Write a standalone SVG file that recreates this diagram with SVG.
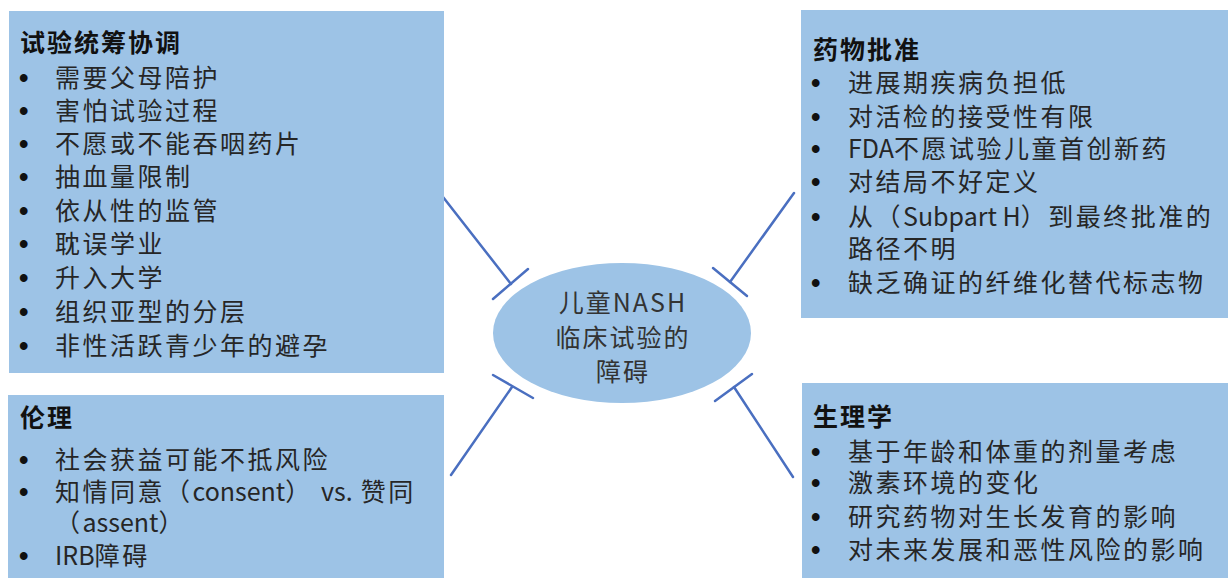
<svg xmlns="http://www.w3.org/2000/svg" width="1231" height="578" viewBox="0 0 1231 578">
<style>
.box{fill:#9DC3E6;}
.ell{fill:#9DC3E6;}
.t{font-family:"Noto Sans CJK SC","Noto Sans",sans-serif;font-size:25px;fill:#262626;letter-spacing:2.5px;}
.l{letter-spacing:0px;}
.h{font-family:"Noto Sans CJK SC","Noto Sans",sans-serif;font-size:25px;font-weight:bold;fill:#111;letter-spacing:2px;}
.b{font-family:"Liberation Sans",sans-serif;font-size:27px;font-weight:bold;fill:#111;}
.c{font-family:"Noto Sans CJK SC","Noto Sans",sans-serif;font-size:25px;fill:#333;letter-spacing:2px;text-anchor:middle;}
.ln{stroke:#4A6FC0;stroke-width:2.5;fill:none;stroke-linecap:round;}
</style>
<rect width="1231" height="578" fill="#ffffff"/>
<g id="connectors">
<line class="ln" x1="443" y1="197" x2="511" y2="284"/>
<line class="ln" x1="493" y1="299" x2="528" y2="269"/>
<line class="ln" x1="794" y1="193" x2="730" y2="282"/>
<line class="ln" x1="713" y1="268" x2="747" y2="296"/>
<line class="ln" x1="451" y1="475" x2="512" y2="387"/>
<line class="ln" x1="493" y1="375" x2="533" y2="398"/>
<line class="ln" x1="793" y1="477" x2="734" y2="387"/>
<line class="ln" x1="715" y1="401" x2="752" y2="374"/>
</g>
<g id="center">
<ellipse class="ell" cx="622" cy="333" rx="129" ry="70"/>
<text class="c" x="623" y="312">儿童NASH</text>
<text class="c" x="623" y="347">临床试验的</text>
<text class="c" x="623" y="381">障碍</text>
</g>
<g id="trial-coordination">
<rect class="box" x="9" y="11" width="435" height="362"/>
<text class="h" x="20" y="52">试验统筹协调</text>
<text class="b" x="19" y="87">•</text><text class="t" x="55" y="87">需要父母陪护</text>
<text class="b" x="19" y="120">•</text><text class="t" x="55" y="120">害怕试验过程</text>
<text class="b" x="19" y="153">•</text><text class="t" x="55" y="153">不愿或不能吞咽药片</text>
<text class="b" x="19" y="186">•</text><text class="t" x="55" y="186">抽血量限制</text>
<text class="b" x="19" y="220">•</text><text class="t" x="55" y="220">依从性的监管</text>
<text class="b" x="19" y="253">•</text><text class="t" x="55" y="253">耽误学业</text>
<text class="b" x="19" y="287">•</text><text class="t" x="55" y="287">升入大学</text>
<text class="b" x="19" y="321">•</text><text class="t" x="55" y="321">组织亚型的分层</text>
<text class="b" x="19" y="355">•</text><text class="t" x="55" y="355">非性活跃青少年的避孕</text>
</g>
<g id="drug-approval">
<rect class="box" x="801" y="10" width="427" height="308"/>
<text class="h" x="813" y="59">药物批准</text>
<text class="b" x="811" y="92">•</text><text class="t" x="848" y="92">进展期疾病负担低</text>
<text class="b" x="811" y="126">•</text><text class="t" x="848" y="126">对活检的接受性有限</text>
<text class="b" x="811" y="158">•</text><text class="t" x="848" y="158"><tspan class="l">FDA</tspan>不愿试验儿童首创新药</text>
<text class="b" x="811" y="191">•</text><text class="t" x="848" y="191">对结局不好定义</text>
<text class="b" x="811" y="226">•</text><text class="t" x="848" y="226">从（<tspan class="l">Subpart H</tspan>）到最终批准的</text>
<text class="t" x="848" y="258">路径不明</text>
<text class="b" x="811" y="292">•</text><text class="t" x="848" y="292">缺乏确证的纤维化替代标志物</text>
</g>
<g id="ethics">
<rect class="box" x="8" y="395" width="436" height="183"/>
<text class="h" x="20" y="427">伦理</text>
<text class="b" x="19" y="469">•</text><text class="t" x="55" y="469">社会获益可能不抵风险</text>
<text class="b" x="19" y="501">•</text><text class="t" x="55" y="501">知情同意（<tspan class="l">consent</tspan>） <tspan class="l">vs.</tspan> 赞同</text>
<text class="t" x="55" y="532">（<tspan class="l">assent</tspan>）</text>
<text class="b" x="19" y="565">•</text><text class="t" x="55" y="565"><tspan class="l">IRB</tspan>障碍</text>
</g>
<g id="physiology">
<rect class="box" x="802" y="383" width="426" height="195"/>
<text class="h" x="813" y="426">生理学</text>
<text class="b" x="811" y="461">•</text><text class="t" x="848" y="461">基于年龄和体重的剂量考虑</text>
<text class="b" x="811" y="492">•</text><text class="t" x="848" y="492">激素环境的变化</text>
<text class="b" x="811" y="526">•</text><text class="t" x="848" y="526">研究药物对生长发育的影响</text>
<text class="b" x="811" y="559">•</text><text class="t" x="848" y="559">对未来发展和恶性风险的影响</text>
</g>
</svg>
